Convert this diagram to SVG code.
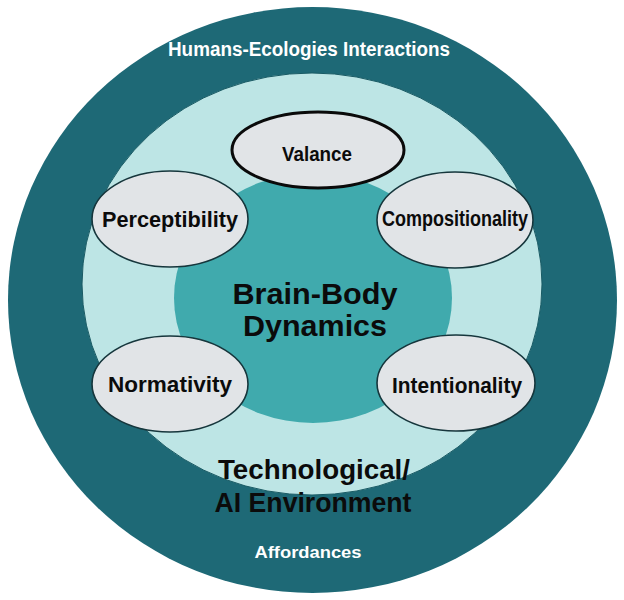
<svg xmlns="http://www.w3.org/2000/svg" width="624" height="600" viewBox="0 0 624 600">
<style>
.node{fill:#e1e4e7;stroke:#16363c;stroke-width:1.6}
.lbl{font-family:"Liberation Sans",Arial,sans-serif;font-weight:bold;fill:#0b0b0b;text-anchor:middle}
.wt{font-family:"Liberation Sans",Arial,sans-serif;font-weight:bold;fill:#ffffff;text-anchor:middle}
</style>
<rect width="624" height="600" fill="#ffffff"/>
<g id="outer">
<ellipse cx="312.5" cy="300" rx="304.5" ry="293" fill="#1e6976"/>
<text class="wt" x="309" y="56" font-size="20" textLength="282" lengthAdjust="spacingAndGlyphs">Humans-Ecologies Interactions</text>
<text class="wt" x="308" y="558" font-size="16" textLength="107" lengthAdjust="spacingAndGlyphs">Affordances</text>
</g>
<g id="environment">
<ellipse cx="312" cy="284" rx="230" ry="211" fill="#bde5e5" stroke="#195a64" stroke-width="1"/>
</g>
<g id="brain-body">
<ellipse cx="313" cy="298" rx="139" ry="125" fill="#40aaad"/>
<text class="lbl" x="315" y="304" font-size="29" textLength="165" lengthAdjust="spacingAndGlyphs">Brain-Body</text>
<text class="lbl" x="315" y="336" font-size="29" textLength="144" lengthAdjust="spacingAndGlyphs">Dynamics</text>
</g>
<g id="env-label">
<text class="lbl" x="314" y="479" font-size="27" textLength="192" lengthAdjust="spacingAndGlyphs">Technological/</text>
<text class="lbl" x="313" y="512" font-size="27" textLength="197" lengthAdjust="spacingAndGlyphs">AI Environment</text>
</g>
<g id="connectors"></g>
<g id="valance">
<ellipse cx="318" cy="150" rx="86" ry="38" fill="#e1e4e7" stroke="#0a0a0a" stroke-width="3"/>
<text class="lbl" x="317" y="161" font-size="20" textLength="70" lengthAdjust="spacingAndGlyphs">Valance</text>
</g>
<g id="perceptibility">
<ellipse class="node" cx="170" cy="219" rx="78" ry="48"/>
<text class="lbl" x="170" y="227" font-size="22" textLength="136" lengthAdjust="spacingAndGlyphs">Perceptibility</text>
</g>
<g id="compositionality">
<ellipse class="node" cx="455" cy="220" rx="78" ry="48"/>
<text class="lbl" x="455" y="226" font-size="22" textLength="146" lengthAdjust="spacingAndGlyphs">Compositionality</text>
</g>
<g id="normativity">
<ellipse class="node" cx="170" cy="384" rx="78" ry="48"/>
<text class="lbl" x="170" y="392" font-size="22" textLength="124" lengthAdjust="spacingAndGlyphs">Normativity</text>
</g>
<g id="intentionality">
<ellipse class="node" cx="456" cy="383" rx="79" ry="48"/>
<text class="lbl" x="457" y="393" font-size="22" textLength="130" lengthAdjust="spacingAndGlyphs">Intentionality</text>
</g>
</svg>
